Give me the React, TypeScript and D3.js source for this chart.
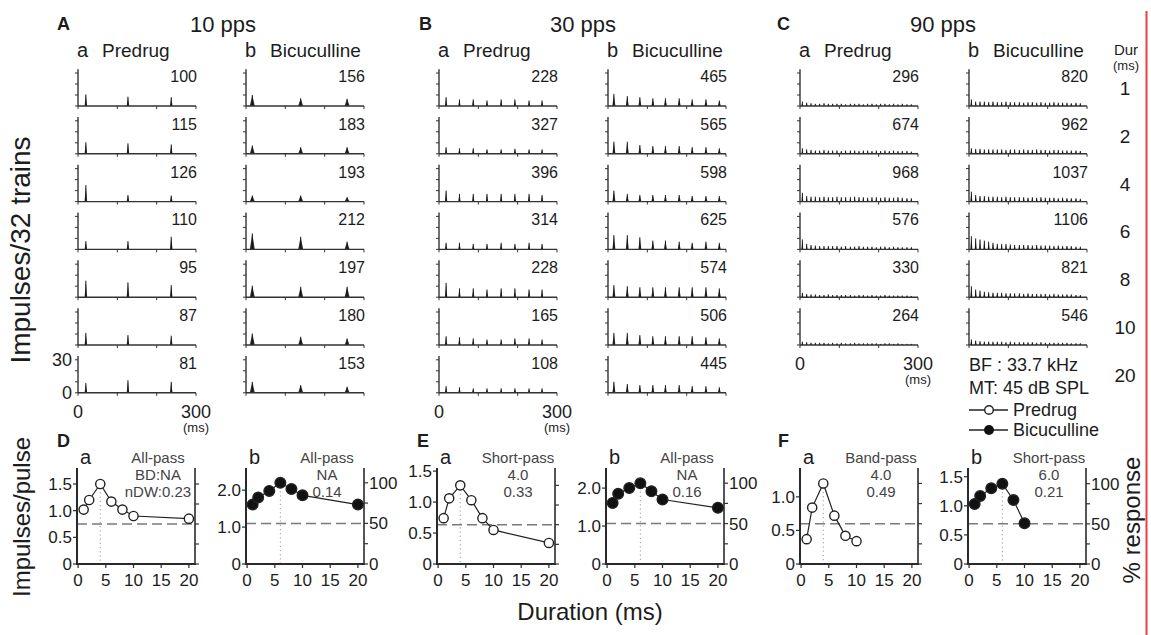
import React from "react";
import * as d3 from "d3";

const FONT = "'Liberation Sans', Arial, Helvetica, sans-serif";
const INK = "#1c1c1c";

// ---------- Top histogram data ----------
const groupLetters = ["A", "B", "C"];
const rateLabels = ["10 pps", "30 pps", "90 pps"];
const durationsTop = [1, 2, 4, 6, 8, 10, 20];

// pulse onset times (ms)
const pulseTimesAa = [20, 127, 237];
const pulseTimesAb = [16, 139, 257];
const pulseTimesBa = [18, 52, 87, 122, 158, 193, 229, 262];
const pulseTimesBb = [15, 49, 81, 114, 146, 181, 214, 249, 283];
const pulseTimesC = [6, 17, 28, 39, 50, 61, 72, 83, 94, 105, 116, 128, 139, 150, 161, 172, 183, 194, 205, 216, 227, 238, 249, 260, 272, 283];

// total impulse counts
const countsAa = [100, 115, 126, 110, 95, 87, 81];
const countsAb = [156, 183, 193, 212, 197, 180, 153];
const countsBa = [228, 327, 396, 314, 228, 165, 108];
const countsBb = [465, 565, 598, 625, 574, 506, 445];
const countsCa = [296, 674, 968, 576, 330, 264];
const countsCb = [820, 962, 1037, 1106, 821, 546];

// peak heights (impulses / bin) per pulse
const peaksAa = [
  [10.5, 8.5, 8], [10.5, 9.5, 8.5], [15, 6, 5.5], [7.5, 7.5, 11.5],
  [15, 13.5, 11], [11, 9, 8.5], [9, 11.5, 10],
];
const peaksAb = [
  [10, 7, 6.5], [7.5, 6, 6], [5.5, 5.5, 4], [14.5, 11.5, 7],
  [10.5, 9.5, 9.5], [10.5, 7.5, 6], [10, 7, 5.5],
];
const peaksBa = [
  [8, 6, 6, 5, 6, 6, 5, 5], [6, 5, 5, 4, 4, 4.5, 4, 4], [10, 7, 7, 7, 7, 7, 7, 6],
  [6, 6, 5, 5, 6, 5, 6, 5], [13, 8, 8, 7, 8, 8, 7, 7], [8, 7, 6, 5, 5, 6, 6, 5],
  [6, 5, 4, 4, 4, 4, 4, 4],
];
const peaksBb = [
  [11, 9, 8, 7, 7, 7, 6, 6, 5], [11, 11, 8, 7, 7, 7, 6, 6, 5], [10, 7, 6, 6, 6, 6, 5, 5, 5],
  [13, 13, 11, 8, 8, 7, 6, 7, 6], [11, 10, 9, 9, 9, 9, 9, 9, 8], [11, 11, 9, 8, 8, 8, 8, 7, 6],
  [10, 8, 7, 7, 7, 7, 6, 6, 5],
];
const peaksCa = [
  [4, 3, 2.5, 2, 2, 2.5, 2, 2, 2, 2, 1.5, 2, 2, 2, 1.5, 2, 2, 1.5, 2, 2, 1.5, 2, 1.5, 2, 1.5, 1.5],
  [5, 4, 3.5, 3, 3, 3.5, 3, 3, 3, 2.5, 3, 3, 3, 2.5, 3, 3, 2.5, 3, 2.5, 3, 2.5, 3, 2.5, 2.5, 2.5, 2],
  [8, 5, 4.5, 4.5, 4, 4.5, 4, 4, 4.5, 4, 4, 4, 4.5, 4, 4, 3.5, 4, 4, 3.5, 4, 3.5, 3.5, 4, 3.5, 3, 3],
  [9, 5, 4, 3.5, 3, 3, 3, 3, 3, 2.5, 3, 2.5, 2.5, 3, 2.5, 2.5, 2.5, 2, 2.5, 2.5, 2, 2.5, 2, 2, 2, 2],
  [4, 3, 2.5, 2.5, 2, 2, 2.5, 2, 2, 2, 2, 2, 1.5, 2, 2, 1.5, 2, 1.5, 1.5, 2, 1.5, 1.5, 1.5, 1.5, 1.5, 1],
  [3, 2.5, 2, 2, 2, 2, 1.5, 2, 1.5, 2, 1.5, 1.5, 2, 1.5, 1.5, 1.5, 1.5, 1.5, 1, 1.5, 1.5, 1, 1.5, 1, 1, 1],
];
const peaksCb = [
  [6, 4, 4, 4, 3.5, 4, 3.5, 3.5, 4, 3.5, 3.5, 3.5, 3, 3.5, 3.5, 3, 3.5, 3, 3, 3.5, 3, 3, 3, 2.5, 3, 2.5],
  [5, 4.5, 4.5, 4, 4, 4, 4, 4, 3.5, 4, 4, 3.5, 4, 3.5, 3.5, 4, 3.5, 3.5, 3, 3.5, 3.5, 3, 3, 3, 3, 2.5],
  [9, 6, 5, 5, 4.5, 4.5, 4.5, 4, 4.5, 4, 4, 4, 4, 3.5, 4, 3.5, 4, 3.5, 3.5, 3.5, 3, 3.5, 3, 3, 3, 2.5],
  [12, 10, 9, 8, 7, 6, 5, 5, 5, 4.5, 4, 4, 4, 4, 3.5, 4, 3.5, 3.5, 3.5, 3, 3.5, 3, 3, 3, 2.5, 2.5],
  [10, 7, 6, 5, 4.5, 4, 4, 4, 3.5, 3.5, 3.5, 3.5, 3, 3.5, 3, 3, 3, 3, 2.5, 3, 2.5, 2.5, 2.5, 2.5, 2, 2],
  [5, 4, 3.5, 3, 3, 3, 3, 3, 2.5, 3, 2.5, 2.5, 2.5, 2.5, 2.5, 2, 2.5, 2, 2, 2, 2, 2, 2, 1.5, 1.5, 1.5],
];

// ---------- Duration-tuning data ----------
const dursFull = [1, 2, 4, 6, 8, 10, 20];
const dursShort = [1, 2, 4, 6, 8, 10];
const valsDa = [1.02, 1.2, 1.5, 1.17, 1.02, 0.9, 0.85];
const valsDb = [1.61, 1.8, 1.98, 2.2, 2.03, 1.86, 1.61];
const valsEa = [0.74, 1.06, 1.27, 1.03, 0.74, 0.55, 0.34];
const valsEb = [1.61, 1.85, 2.0, 2.13, 1.92, 1.7, 1.48];
const valsFa = [0.37, 0.84, 1.2, 0.72, 0.42, 0.34];
const valsFb = [1.03, 1.17, 1.3, 1.38, 1.1, 0.7];

const notesDa = ["All-pass", "BD:NA", "nDW:0.23"];
const notesDb = ["All-pass", "NA", "0.14"];
const notesEa = ["Short-pass", "4.0", "0.33"];
const notesEb = ["All-pass", "NA", "0.16"];
const notesFa = ["Band-pass", "4.0", "0.49"];
const notesFb = ["Short-pass", "6.0", "0.21"];

const ticksSmall = [0, 0.5, 1.0, 1.5];
const ticksLarge = [0, 1.0, 2.0];
const ticksF = [0, 0.5, 1.0];
const durTicks = [0, 5, 10, 15, 20];
const pctTicks = [0, 25, 50, 75, 100];
const pctLabels = [0, 50, 100];

// ---------- layout ----------
const colLefts = [78, 246, 439, 608, 800, 969];
const HW = 118;
const rowBases = [106, 153.8, 201.6, 249.4, 297.2, 345, 392.8];

const histCols = [
  { times: pulseTimesAa, peaks: peaksAa, counts: countsAa, w: 2.6 },
  { times: pulseTimesAb, peaks: peaksAb, counts: countsAb, w: 5 },
  { times: pulseTimesBa, peaks: peaksBa, counts: countsBa, w: 2.4 },
  { times: pulseTimesBb, peaks: peaksBb, counts: countsBb, w: 3 },
  { times: pulseTimesC, peaks: peaksCa, counts: countsCa, w: 1.8 },
  { times: pulseTimesC, peaks: peaksCb, counts: countsCb, w: 2 },
];

function Histogram({ x0, base, times, heights, count, w }) {
  const x = d3.scaleLinear().domain([0, 300]).range([x0, x0 + HW]);
  const y = d3.scaleLinear().domain([0, 30]).range([base, base - 33]);
  const tri = (t, h) =>
    `M${x(t) - w / 2},${base} L${x(t)},${y(h)} L${x(t) + w / 2},${base} Z`;
  return (
    <g>
      {times.map((t, i) =>
        heights[i] != null ? (
          <g key={i}>
            <path d={tri(t, heights[i])} fill="#2a2a2a" />
            <line x1={x(t)} x2={x(t)} y1={base} y2={y(heights[i])} stroke="#111" strokeWidth={0.9} />
          </g>
        ) : null
      )}
      <line x1={x0} x2={x0} y1={base} y2={y(33.5)} stroke="#333" strokeWidth={1.4} />
      {[0, 10, 20, 30].map((t) => (
        <line key={t} x1={x0 - 3} x2={x0} y1={y(t)} y2={y(t)} stroke="#333" strokeWidth={1} />
      ))}
      <line x1={x0} x2={x0 + HW} y1={base} y2={base} stroke="#333" strokeWidth={1.4} />
      {[0, 100, 200, 300].map((t) => (
        <line key={t} x1={x(t)} x2={x(t)} y1={base} y2={base + 3} stroke="#333" strokeWidth={1} />
      ))}
      <text x={x0 + HW + 1} y={base - 24} textAnchor="end" fontSize={16} fill={INK}>
        {count}
      </text>
    </g>
  );
}

const bottomPanels = [
  { L: 77, yMax: 1.8, durs: dursFull, vals: valsDa, filled: false, ticks: ticksSmall, rightLab: false, notes: notesDa, sub: "a", best: 4 },
  { L: 246, yMax: 2.6, durs: dursFull, vals: valsDb, filled: true, ticks: ticksLarge, rightLab: true, notes: notesDb, sub: "b", best: 6 },
  { L: 437, yMax: 1.55, durs: dursFull, vals: valsEa, filled: false, ticks: ticksSmall, rightLab: false, notes: notesEa, sub: "a", best: 4 },
  { L: 606, yMax: 2.53, durs: dursFull, vals: valsEb, filled: true, ticks: ticksLarge, rightLab: true, notes: notesEb, sub: "b", best: 6 },
  { L: 800, yMax: 1.43, durs: dursShort, vals: valsFa, filled: false, ticks: ticksF, rightLab: false, notes: notesFa, sub: "a", best: 4 },
  { L: 968, yMax: 1.65, durs: dursShort, vals: valsFb, filled: true, ticks: ticksSmall, rightLab: true, notes: notesFb, sub: "b", best: 6 },
];

const BT = 468;
const BB = 564;
const BW = 118;

function TuningPanel({ p }) {
  const x = d3.scaleLinear().domain([-0.2, 21.1]).range([p.L, p.L + BW]);
  const y = d3.scaleLinear().domain([0, p.yMax]).range([BB, BT]);
  const maxV = d3.max(p.vals);
  const yp = (pct) => y((pct / 100) * maxV);
  const pts = p.durs.map((d, i) => [x(d), y(p.vals[i])]);
  const line = d3.line()(pts);
  const bi = p.durs.indexOf(p.best);
  const fmt = (v) => (v === 0 ? "0" : d3.format(".1f")(v));
  const R = p.L + BW;
  return (
    <g>
      <line x1={x(p.best)} x2={x(p.best)} y1={y(p.vals[bi])} y2={BB} stroke="#999" strokeWidth={1} strokeDasharray="1.2,3" />
      <line x1={p.L} x2={R} y1={yp(50)} y2={yp(50)} stroke="#7a7a7a" strokeWidth={1.5} strokeDasharray="10,5" />
      <line x1={p.L} x2={p.L} y1={BT} y2={BB + 1} stroke="#2a2a2a" strokeWidth={2} />
      <line x1={R} x2={R} y1={BT} y2={BB + 1} stroke="#555" strokeWidth={2} />
      <line x1={p.L - 1} x2={R + 1} y1={BB} y2={BB} stroke="#2a2a2a" strokeWidth={2} />
      {p.ticks.map((t) => (
        <g key={t}>
          <line x1={p.L - 4} x2={p.L} y1={y(t)} y2={y(t)} stroke="#2a2a2a" strokeWidth={1.2} />
          <text x={p.L - 5} y={y(t) + 6} textAnchor="end" fontSize={17} fill={INK}>
            {fmt(t)}
          </text>
        </g>
      ))}
      {pctTicks.map((t) => (
        <line key={t} x1={R} x2={R + 4} y1={yp(t)} y2={yp(t)} stroke="#333" strokeWidth={1.2} />
      ))}
      {p.rightLab &&
        pctLabels.map((t) => (
          <text key={t} x={R + 5} y={yp(t) + 6} fontSize={17} fill={INK}>
            {t}
          </text>
        ))}
      {durTicks.map((t) => (
        <g key={t}>
          <line x1={x(t)} x2={x(t)} y1={BB} y2={BB + 4} stroke="#2a2a2a" strokeWidth={1.2} />
          <text x={x(t)} y={BB + 22} textAnchor="middle" fontSize={17} fill={INK}>
            {t}
          </text>
        </g>
      ))}
      <path d={line} fill="none" stroke="#222" strokeWidth={1.2} />
      {pts.map(([cx, cy], i) => (
        <circle key={i} cx={cx} cy={cy} r={p.filled ? 5.3 : 4.6} fill={p.filled ? "#111" : "#fff"} stroke="#222" strokeWidth={1.4} />
      ))}
      <text x={p.L + 3} y={464} fontSize={20} fill={INK}>
        {p.sub}
      </text>
      {p.notes.map((n, i) => (
        <text key={i} x={p.L + 81} y={463 + i * 17} textAnchor="middle" fontSize={15} fill="#444">
          {n}
        </text>
      ))}
    </g>
  );
}

export default function App() {
  const groupX = [57, 419, 777];
  const rateX = [223, 583, 943];
  return (
    <svg
      width={1151}
      height={635}
      style={{ position: "absolute", left: 0, top: 0, background: "#fff" }}
      fontFamily={FONT}
    >
      <rect width={1151} height={635} fill="#fff" />
      {groupLetters.map((g, i) => (
        <g key={g}>
          <text x={groupX[i]} y={30} fontSize={18} fontWeight="bold" fill={INK}>
            {g}
          </text>
          <text x={rateX[i]} y={32} textAnchor="middle" fontSize={22} fill={INK}>
            {rateLabels[i]}
          </text>
        </g>
      ))}
      {colLefts.map((cx, c) => (
        <g key={c}>
          <text x={cx - 1} y={57} fontSize={20} fill={INK}>
            {c % 2 === 0 ? "a" : "b"}
          </text>
          <text x={cx + 24} y={57} fontSize={19} fill={INK}>
            {c % 2 === 0 ? "Predrug" : "Bicuculline"}
          </text>
        </g>
      ))}
      {histCols.map((col, c) =>
        col.peaks.map((h, r) => (
          <Histogram key={`${c}-${r}`} x0={colLefts[c]} base={rowBases[r]} times={col.times} heights={h} count={col.counts[r]} w={col.w} />
        ))
      )}
      <text x={72} y={rowBases[6] - 27} textAnchor="end" fontSize={18} fill={INK}>30</text>
      <text x={72} y={rowBases[6] + 6} textAnchor="end" fontSize={18} fill={INK}>0</text>
      {[0, 2, 4].map((c) => {
        const base = c === 4 ? rowBases[5] : rowBases[6];
        return (
          <g key={c}>
            <text x={colLefts[c]} y={base + 25} textAnchor="middle" fontSize={18} fill={INK}>0</text>
            <text x={colLefts[c] + HW} y={base + 25} textAnchor="middle" fontSize={18} fill={INK}>300</text>
            <text x={colLefts[c] + HW} y={base + 39} textAnchor="middle" fontSize={13} fill={INK}>(ms)</text>
          </g>
        );
      })}
      <text x={1126} y={55} textAnchor="middle" fontSize={15} fill={INK}>Dur</text>
      <text x={1126} y={70} textAnchor="middle" fontSize={13} fill={INK}>(ms)</text>
      {durationsTop.map((d, r) => (
        <text key={d} x={1125} y={rowBases[r] - 11} textAnchor="middle" fontSize={19} fill={INK}>
          {d}
        </text>
      ))}
      <text x={969} y={371} fontSize={18} fill={INK}>BF : 33.7 kHz</text>
      <text x={969} y={394} fontSize={18} fill={INK}>MT: 45 dB SPL</text>
      <line x1={969} x2={1008} y1={410} y2={410} stroke="#222" strokeWidth={1.3} />
      <circle cx={989} cy={410} r={4.3} fill="#fff" stroke="#222" strokeWidth={1.4} />
      <text x={1013} y={416} fontSize={18} fill={INK}>Predrug</text>
      <line x1={969} x2={1008} y1={430} y2={430} stroke="#222" strokeWidth={1.3} />
      <circle cx={989} cy={430} r={5} fill="#111" />
      <text x={1013} y={436} fontSize={18} fill={INK}>Bicuculline</text>

      <text transform="translate(30,250) rotate(-90)" textAnchor="middle" fontSize={28} fill={INK}>
        Impulses/32 trains
      </text>
      <text transform="translate(30,517) rotate(-90)" textAnchor="middle" fontSize={24} fill={INK}>
        Impulses/pulse
      </text>
      <text x={590} y={620} textAnchor="middle" fontSize={24} fill={INK}>Duration (ms)</text>
      <text transform="translate(1140,520) rotate(-90)" textAnchor="middle" fontSize={24} fill={INK}>
        % response
      </text>

      {["D", "E", "F"].map((g, i) => (
        <text key={g} x={[57, 417, 778][i]} y={447} fontSize={18} fontWeight="bold" fill={INK}>
          {g}
        </text>
      ))}
      {bottomPanels.map((p, i) => (
        <TuningPanel key={i} p={p} />
      ))}
      <line x1={1146.5} x2={1146.5} y1={11} y2={635} stroke="#e8403c" strokeWidth={2} />
    </svg>
  );
}
